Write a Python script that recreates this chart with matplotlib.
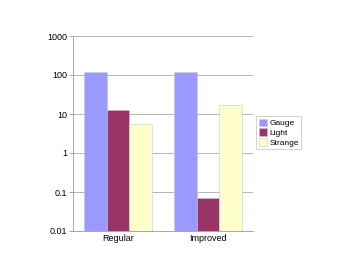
import matplotlib.pyplot as plt
import numpy as np

plt.rcParams['font.family'] = ['Liberation Sans', 'DejaVu Sans']

categories = ['Regular', 'Improved']
series = ['Gauge', 'Light', 'Strange']
gauge = [120, 120]
light = [13, 0.07]
strange = [5.4, 17]
colors = ['#9999ff', '#993366', '#ffffcc']

fig = plt.figure(figsize=(3.53, 2.73), dpi=100)
ax = fig.add_axes([73 / 353, 1 - 231 / 273, 180 / 353, 195 / 273])

x = np.arange(len(categories))
w = 0.25
for i, (name, vals) in enumerate(zip(series, [gauge, light, strange])):
    ax.bar(x + (i - 1) * w, vals, w, color=colors[i], label=name,
           edgecolor='#c8c8c8', linewidth=0.4, zorder=3)

ax.set_yscale('log')
ax.set_ylim(0.01, 1000)
ax.set_xlim(-0.5, 1.5)
ax.set_yticks([0.01, 0.1, 1, 10, 100, 1000])
ax.set_yticklabels(['0.01', '0.1', '1', '10', '100', '1000'])
ax.minorticks_off()
ax.set_xticks(x)
ax.set_xticklabels(categories)
ax.tick_params(axis='y', length=3, width=0.6, color='#999999', labelsize=6.5, pad=1)
ax.tick_params(axis='x', length=0, labelsize=6.5, pad=2)
ax.yaxis.grid(True, color='#aaaaaa', linewidth=0.6, zorder=0)
for s in ['top', 'right']:
    ax.spines[s].set_visible(False)
for s in ['left', 'bottom']:
    ax.spines[s].set_color('#999999')
    ax.spines[s].set_linewidth(0.6)

leg = fig.legend(loc='upper left', bbox_to_anchor=(256 / 353, 1 - 116 / 273),
                 fontsize=6, frameon=True, fancybox=False, borderpad=0.3,
                 handlelength=1.0, handleheight=1.0, handletextpad=0.3,
                 labelspacing=0.15, borderaxespad=0)
leg.get_frame().set_edgecolor('#bbbbbb')
leg.get_frame().set_linewidth(0.6)

fig.savefig('out.png', dpi=100)
